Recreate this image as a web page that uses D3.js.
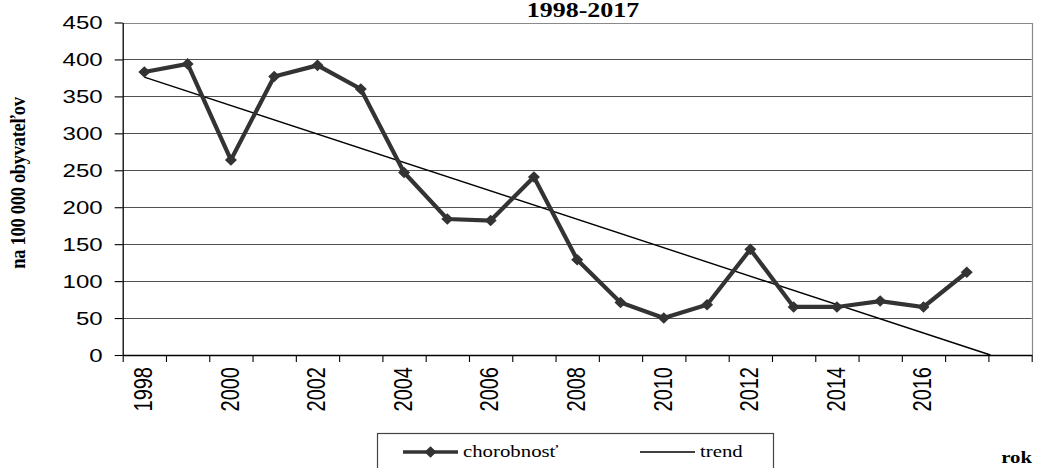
<!DOCTYPE html>
<html>
<head>
<meta charset="utf-8">
<script src="https://cdn.jsdelivr.net/npm/d3@7/dist/d3.min.js"></script>
<style>
  html, body { margin: 0; padding: 0; background: #fff; }
  svg { display: block; }
</style>
</head>
<body>
<svg id="chart" width="1042" height="468"></svg>
<script>
// ---- data ----
const categories = ["1998","1999","2000","2001","2002","2003","2004","2005","2006","2007",
                    "2008","2009","2010","2011","2012","2013","2014","2015","2016","2017",""];
const years = categories.slice(0, 20);
const chorobnost = [383, 394, 264, 377, 392, 360, 247, 184, 182, 241,
                    129, 71, 50, 68, 143, 65, 65, 73, 65, 112];
const yTickValues = [0, 50, 100, 150, 200, 250, 300, 350, 400, 450];
const xTickLabels = ["1998","2000","2002","2004","2006","2008","2010","2012","2014","2016"];
const titleText = "1998-2017";
const yAxisTitle = "na 100 000 obyvateľov";
const xAxisTitle = "rok";
const legendLabels = ["chorobnosť", "trend"];

// ---- layout ----
const W = 1042, H = 468;
const plot = { left: 122.7, right: 1031.7, top: 22.5, bottom: 355 };
const SX = 1.3; // horizontal stretch of the original picture's text

const svg = d3.select("#chart");
const sans = "'Liberation Sans', Arial, sans-serif";
const serif = "'Liberation Serif', 'Times New Roman', serif";

const x = d3.scaleBand().domain(categories).range([plot.left, plot.right]).paddingInner(0).paddingOuter(0);
const step = x.step();
const xIdx = d3.scaleLinear().domain([-0.5, categories.length - 0.5]).range([plot.left, plot.right]);
const y = d3.scaleLinear().domain([0, 450]).range([plot.bottom, plot.top]);

// gridlines
svg.append("g")
  .selectAll("line")
  .data(yTickValues.filter(v => v > 0 && v < 450))
  .join("line")
  .attr("x1", plot.left).attr("x2", plot.right)
  .attr("y1", d => Math.round(y(d)) + 0.5).attr("y2", d => Math.round(y(d)) + 0.5)
  .attr("stroke", "#505050").attr("stroke-width", 1);

// plot border top/right
svg.append("path")
  .attr("d", `M${plot.left},${Math.round(plot.top)+0.5} H${Math.round(plot.right)+0.5} V${plot.bottom}`)
  .attr("fill", "none").attr("stroke", "#8a8a8a").attr("stroke-width", 1.2);

// y axis
const yAxis = svg.append("g")
  .attr("transform", `translate(${plot.left},0)`)
  .call(d3.axisLeft(y).tickValues(yTickValues).tickSize(8).tickSizeOuter(0));
yAxis.select(".domain").attr("stroke", "#000").attr("stroke-width", 1.3);
yAxis.selectAll(".tick line").attr("stroke", "#000").attr("stroke-width", 1.1);
yAxis.selectAll(".tick text")
  .attr("x", 0).attr("dy", "0.35em")
  .attr("text-anchor", "end")
  .attr("transform", `translate(-20,0) scale(${SX},1)`)
  .attr("font-family", sans).attr("font-size", 18.5).attr("fill", "#000");

// x axis ticks at category boundaries
const xTicks = svg.append("g")
  .attr("transform", `translate(0,${plot.bottom})`)
  .call(d3.axisBottom(xIdx).tickValues(d3.range(categories.length + 1).map(i => i - 0.5))
        .tickSize(7).tickSizeOuter(0).tickFormat(""));
xTicks.select(".domain").attr("stroke", "#000").attr("stroke-width", 1.3);
xTicks.selectAll(".tick line").attr("stroke", "#000").attr("stroke-width", 1.1);

// x axis labels
const xLab = svg.append("g")
  .attr("transform", `translate(0,${plot.bottom})`)
  .call(d3.axisBottom(x).tickValues(xTickLabels).tickSize(0).tickSizeOuter(0));
xLab.select(".domain").remove();
xLab.selectAll(".tick text")
  .attr("x", 0).attr("y", 0).attr("dy", "0.35em")
  .attr("text-anchor", "end")
  .attr("transform", `translate(-1,12) scale(1.25,1) rotate(-90)`)
  .attr("font-family", sans).attr("font-size", 20).attr("fill", "#000");

// trend line (least squares on the series), extended forward until it meets 0
const n = chorobnost.length;
const xs = d3.range(n);
const mx = d3.mean(xs), my = d3.mean(chorobnost);
const slope = d3.sum(xs, (xi, i) => (xi - mx) * (chorobnost[i] - my)) / d3.sum(xs, xi => (xi - mx) ** 2);
const intercept = my - slope * mx;
const xEnd = Math.min(-intercept / slope, categories.length - 0.5);
svg.append("line")
  .attr("x1", xIdx(0)).attr("y1", y(intercept))
  .attr("x2", xIdx(xEnd)).attr("y2", y(intercept + slope * xEnd))
  .attr("stroke", "#000").attr("stroke-width", 1.4);

// series line
const line = d3.line()
  .x((d, i) => x(years[i]) + step / 2)
  .y(d => y(d));
svg.append("path")
  .datum(chorobnost)
  .attr("d", line)
  .attr("fill", "none").attr("stroke", "#333333").attr("stroke-width", 4.2)
  .attr("stroke-linejoin", "miter");

const diamond = "M0,-5.8 L6,0 L0,5.8 L-6,0 Z";
svg.append("g")
  .selectAll("path")
  .data(chorobnost)
  .join("path")
  .attr("d", diamond)
  .attr("transform", (d, i) => `translate(${x(years[i]) + step / 2},${y(d)})`)
  .attr("fill", "#333333");

// title (kept fully visible above the plot)
svg.append("text")
  .attr("transform", `translate(583,17) scale(${SX},1)`)
  .attr("text-anchor", "middle")
  .attr("font-family", serif).attr("font-weight", "bold").attr("font-size", 20)
  .text(titleText);

// y axis title
svg.append("text")
  .attr("transform", `translate(18,183) scale(1.1,1) rotate(-90)`)
  .attr("text-anchor", "middle").attr("dy", "0.35em")
  .attr("font-family", serif).attr("font-weight", "bold").attr("font-size", 18.5)
  .attr("letter-spacing", -0.3)
  .text(yAxisTitle);

// x axis title
svg.append("text")
  .attr("transform", `translate(1032,463) scale(${SX},1)`)
  .attr("text-anchor", "end")
  .attr("font-family", serif).attr("font-weight", "bold").attr("font-size", 16)
  .text(xAxisTitle);

// legend
const lg = svg.append("g");
lg.append("rect")
  .attr("x", 377.5).attr("y", 433.5).attr("width", 396).attr("height", 60)
  .attr("fill", "#fff").attr("stroke", "#444").attr("stroke-width", 1.2);
const ly = 452;
lg.append("line").attr("x1", 403).attr("x2", 458).attr("y1", ly).attr("y2", ly)
  .attr("stroke", "#333333").attr("stroke-width", 3.5);
lg.append("path").attr("d", diamond).attr("transform", `translate(430.5,${ly})`).attr("fill", "#333333");
lg.append("text")
  .attr("transform", `translate(463,${ly}) scale(${SX},1)`)
  .attr("dy", "0.32em")
  .attr("font-family", serif).attr("font-size", 16)
  .text(legendLabels[0]);
lg.append("line").attr("x1", 640).attr("x2", 695).attr("y1", ly).attr("y2", ly)
  .attr("stroke", "#000").attr("stroke-width", 1.4);
lg.append("text")
  .attr("transform", `translate(700,${ly}) scale(${SX},1)`)
  .attr("dy", "0.32em")
  .attr("font-family", serif).attr("font-size", 16)
  .text(legendLabels[1]);
</script>
</body>
</html>
